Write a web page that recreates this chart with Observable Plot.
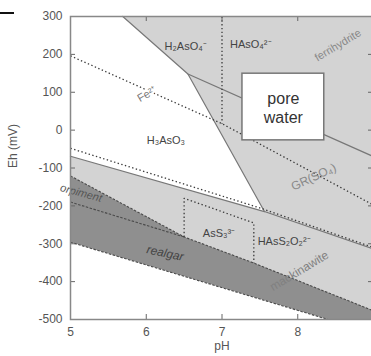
<!DOCTYPE html>
<html><head><meta charset="utf-8">
<script src="https://cdn.jsdelivr.net/npm/d3@7"></script>
<script src="https://cdn.jsdelivr.net/npm/@observablehq/plot@0.6"></script>
<style>
body{margin:0;overflow:hidden;background:#fff;font-family:"Liberation Sans",Arial,sans-serif}
#wrap{position:relative;width:371px;height:356px;overflow:hidden}
#mark{position:absolute;left:0;top:12px;width:14px;height:2px;background:#111}
#chart{position:absolute;left:0;top:0}
</style>
</head><body>
<div id="wrap"><div id="chart"></div><div id="mark"></div></div>
<script>
// axis ticks
const pHTicks = [5, 6, 7, 8];
const pHInnerTicks = [6, 7, 8];
const ehTicks = [-500, -400, -300, -200, -100, 0, 100, 200, 300];

// filled regions [pH, Eh]
const h3aso3Region = [[5,300],[5.69,300],[6.55,148],[7.56,-215],[5,-69]];
const sulfideMineralRegion = [[5,-121],[6.5,-282],[7.42,-351],[9,-477],[9,-500],[8.4,-500],[5,-296]];
const lowerWhiteRegion = [[5,-296],[8.4,-500],[5,-500]];

// boundary lines [pH, Eh]
const ferrihydriteLine = [[5.69,300],[6.55,148],[9,-70]];
const arsenateLine = [[6.55,148],[7.56,-215]];
const sulfideLine = [[5,-69],[7.56,-215],[9,-314]];
const sulfateDotted = [[5,-48],[7.54,-208],[9,-310]];
const feLine = [[5,196],[7,17],[9,-198]];
const arsenatePKa = [[7,300],[7,17]];
const mineralTop = [[5,-121],[6.5,-282],[7.42,-351],[9,-477]];
const mineralBottom = [[5,-296],[8.4,-500]];
const orpimentLine = [[5,-190],[6.5,-282]];
const thioBox = [[6.5,-282],[6.5,-180],[7.42,-245],[7.42,-351]];

// pore water box
const poreWaterPH = [7.27, 8.35];
const poreWaterEh = [-27, 149];

// labels
const speciesText = ["H₂AsO₄⁻", "HAsO₄²⁻", "H₃AsO₃", "AsS₃³⁻", "HAsS₂O₂²⁻"];
const speciesPH = [6.52, 7.38, 6.26, 6.96, 7.82];
const speciesEh = [222, 225, -26, -274, -293];

const light = "#d3d3d3", dark = "#8f8f8f";
const P = d => d[0], E = d => d[1];
const plotW = 303, plotH = 303;

const solid = {x: P, y: E, stroke: "#777", strokeWidth: 1.2};
const dotted = {x: P, y: E, stroke: "#3a3a3a", strokeWidth: 1.3, strokeDasharray: "1.4,2.4", strokeLinecap: "butt"};
const dashed = {x: P, y: E, stroke: "#4a4a4a", strokeWidth: 1.1, strokeDasharray: "2.5,1.5", strokeLinecap: "butt"};

const one = [0];
const chart = Plot.plot({
  width: 371, height: 356,
  marginTop: 16, marginBottom: 37, marginLeft: 70, marginRight: -2,
  style: {fontFamily: '"Liberation Sans", Arial, sans-serif', fontSize: "12px", color: "#555", background: "transparent", overflow: "visible"},
  x: {domain: [5, 9]},
  y: {domain: [-500, 300]},
  marks: [
    Plot.frame({fill: light, stroke: null}),
    Plot.line(h3aso3Region, {x: P, y: E, fill: "white", stroke: null, curve: "linear-closed"}),
    Plot.line(sulfideMineralRegion, {x: P, y: E, fill: dark, stroke: null, curve: "linear-closed"}),
    Plot.line(lowerWhiteRegion, {x: P, y: E, fill: "white", stroke: null, curve: "linear-closed"}),
    Plot.line(ferrihydriteLine, solid),
    Plot.line(arsenateLine, solid),
    Plot.line(sulfideLine, solid),
    Plot.line(mineralTop, dashed),
    Plot.line(mineralBottom, dashed),
    Plot.line(orpimentLine, dashed),
    Plot.line(sulfateDotted, dotted),
    Plot.line(feLine, dotted),
    Plot.line(arsenatePKa, dotted),
    Plot.line(thioBox, dotted),
    Plot.rect(one, {x1: () => poreWaterPH[0], x2: () => poreWaterPH[1], y1: () => poreWaterEh[0], y2: () => poreWaterEh[1], fill: "white", stroke: "#777", strokeWidth: 1.5}),
    Plot.text(one, {x: () => (poreWaterPH[0] + poreWaterPH[1]) / 2, y: () => (poreWaterEh[0] + poreWaterEh[1]) / 2, text: () => "pore\nwater", fontSize: 16, lineHeight: 1.2, fill: "#333"}),
    Plot.text(speciesText, {x: (d, i) => speciesPH[i], y: (d, i) => speciesEh[i], text: d => d, fontSize: 11, fill: "#444"}),
    Plot.text(one, {x: () => 6.01, y: () => 95, text: () => "Fe²⁺", rotate: -30, fontSize: 11, fill: "#777", stroke: "white", strokeWidth: 4}),
    Plot.text(one, {x: () => 8.53, y: () => 224, text: () => "ferrihydrite", rotate: -31, fontSize: 11, fill: "#888"}),
    Plot.text(one, {x: () => 8.21, y: () => -124, text: () => "GR(SO₄)", rotate: -25, fontSize: 12, fill: "#888"}),
    Plot.text(one, {x: () => 8.02, y: () => -372, text: () => "mackinawite", rotate: -31, fontSize: 12, fill: "#808080"}),
    Plot.text(one, {x: () => 5.14, y: () => -166, text: () => "orpiment", rotate: 15, fontSize: 11, fontStyle: "italic", fill: "#555"}),
    Plot.text(one, {x: () => 6.25, y: () => -325, text: () => "realgar", rotate: 12, fontSize: 12, fontStyle: "italic", fill: "#444"}),
    Plot.tickY(ehTicks, {y: d => d, insetRight: plotW - 5, stroke: "#666"}),
    Plot.tickY(ehTicks, {y: d => d, insetLeft: plotW - 5, stroke: "#666"}),
    Plot.tickX(pHInnerTicks, {x: d => d, insetTop: plotH - 5, stroke: "#666"}),
    Plot.tickX(pHInnerTicks, {x: d => d, insetBottom: plotH - 5, stroke: "#666"}),
    Plot.frame({stroke: "#888", strokeWidth: 1.5}),
    Plot.axisY({ticks: ehTicks, tickSize: 0, tickPadding: 8, tickFormat: d => String(d), label: null, fill: "#555"}),
    Plot.axisX({ticks: pHTicks, tickSize: 0, tickPadding: 8, tickFormat: d => String(d), label: null, fill: "#555"}),
    Plot.text(one, {frameAnchor: "left", dx: -57, rotate: -90, text: () => "Eh (mV)", fontSize: 12, fill: "#555"}),
    Plot.text(one, {frameAnchor: "bottom", dy: 30, text: () => "pH", fontSize: 12, fill: "#555"})
  ]
});
document.getElementById("chart").appendChild(chart);
</script>
</body></html>
